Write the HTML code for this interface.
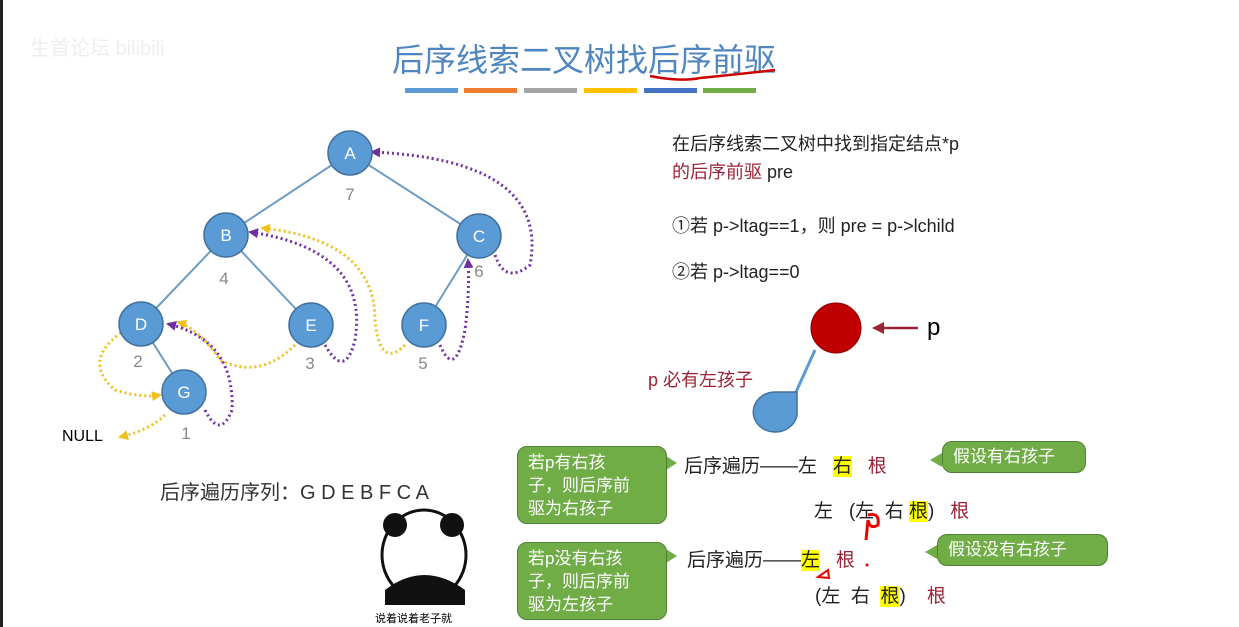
<!DOCTYPE html>
<html><head><meta charset="utf-8"><style>
body{margin:0;width:1239px;height:627px;background:#fff;position:relative;overflow:hidden;font-family:"Liberation Sans","Noto Sans CJK SC",sans-serif}
.t{position:absolute;white-space:nowrap}
.bub{position:absolute;background:#70ad47;border:1px solid #507e32;border-radius:10px;color:#fff;font-size:17px;line-height:23px;padding:4px 10px;box-sizing:border-box}
.hl{background:#ffff00}
.r{color:#9b2335}
</style></head><body>
<div style="position:absolute;left:0;top:0;width:3px;height:627px;background:#222"></div>
<div class="t" style="left:30px;top:32px;font-size:20px;color:#eee">生首论坛 bilibili</div>
<div class="t" style="left:392px;top:35px;font-size:32px;color:#4f86c0">后序线索二叉树找后序前驱</div>
<svg width="1239" height="627" style="position:absolute;left:0;top:0">
<path d="M650 76 Q680 82 700 78 Q740 74 775 70" stroke="#c00" stroke-width="2.5" fill="none"/>
<rect x="405" y="88" width="53" height="5" fill="#5b9bd5"/><rect x="464" y="88" width="53" height="5" fill="#ed7d31"/><rect x="524" y="88" width="53" height="5" fill="#a5a5a5"/><rect x="584" y="88" width="53" height="5" fill="#ffc000"/><rect x="644" y="88" width="53" height="5" fill="#4472c4"/><rect x="703" y="88" width="53" height="5" fill="#70ad47"/>
<g stroke="#6d9cc4" stroke-width="2">
<line x1="350" y1="153" x2="226" y2="235"/><line x1="350" y1="153" x2="479" y2="236"/>
<line x1="226" y1="235" x2="141" y2="324"/><line x1="226" y1="235" x2="311" y2="325"/>
<line x1="479" y1="236" x2="424" y2="325"/><line x1="141" y1="324" x2="184" y2="392"/>
</g>
<defs>
<marker id="ay" markerUnits="userSpaceOnUse" markerWidth="10" markerHeight="10" refX="8" refY="5" orient="auto"><path d="M0 0L10 5L0 10z" fill="#f0c020"/></marker>
<marker id="ap" markerUnits="userSpaceOnUse" markerWidth="10" markerHeight="10" refX="8" refY="5" orient="auto"><path d="M0 0L10 5L0 10z" fill="#7030a0"/></marker>
</defs>
<g fill="none" stroke-width="3" stroke-dasharray="2 3">
<path d="M165 415 Q150 430 120 437" stroke="#f0c020" marker-end="url(#ay)"/>
<path d="M125 330 Q80 360 115 390 Q140 398 160 395" stroke="#f0c020" marker-end="url(#ay)"/>
<path d="M295 345 Q260 380 220 360 Q200 330 178 322" stroke="#f0c020" marker-end="url(#ay)"/>
<path d="M405 345 Q380 370 375 320 Q375 240 262 228" stroke="#f0c020" marker-end="url(#ay)"/>
<path d="M205 410 Q220 440 232 410 Q235 340 168 324" stroke="#7030a0" marker-end="url(#ap)"/>
<path d="M325 345 Q345 380 355 340 Q370 250 250 232" stroke="#7030a0" marker-end="url(#ap)"/>
<path d="M440 345 Q455 380 465 330 Q470 290 468 260" stroke="#7030a0" marker-end="url(#ap)"/>
<path d="M495 255 Q505 285 530 265 Q550 160 372 152" stroke="#7030a0" marker-end="url(#ap)"/>
</g>
<g fill="#5b9bd5" stroke="#41719c" stroke-width="1.5">
<circle cx="350" cy="153" r="22"/><circle cx="226" cy="235" r="22"/><circle cx="479" cy="236" r="22"/>
<circle cx="141" cy="324" r="22"/><circle cx="311" cy="325" r="22"/><circle cx="424" cy="325" r="22"/><circle cx="184" cy="392" r="22"/>
</g>
<g fill="#fff" font-size="17" text-anchor="middle" font-family="Liberation Sans">
<text x="350" y="159">A</text><text x="226" y="241">B</text><text x="479" y="242">C</text><text x="141" y="330">D</text><text x="311" y="331">E</text><text x="424" y="331">F</text><text x="184" y="398">G</text>
</g>
<g fill="#888" font-size="17" text-anchor="middle" font-family="Liberation Sans">
<text x="350" y="200">7</text><text x="224" y="284">4</text><text x="479" y="277">6</text><text x="138" y="367">2</text><text x="310" y="369">3</text><text x="423" y="369">5</text><text x="186" y="439">1</text>
</g>
<line x1="815" y1="350" x2="796" y2="392" stroke="#5b9bd5" stroke-width="3"/>
<path d="M797 392 L797 415 A22 20 0 1 1 775 392 Z" fill="#5b9bd5" stroke="#41719c" stroke-width="1.5"/>
<circle cx="836" cy="328" r="25" fill="#c00000" stroke="#8b0000"/>
<line x1="918" y1="328" x2="880" y2="328" stroke="#9b2335" stroke-width="2.5"/><path d="M872 328 L884 322 L884 334z" fill="#9b2335"/>
<path d="M677 463 L666 456 L666 470z" fill="#70ad47"/>
<path d="M677 556 L666 549 L666 563z" fill="#70ad47"/>
<path d="M930 460 L942 453 L942 467z" fill="#70ad47"/>
<path d="M925 552 L937 545 L937 559z" fill="#70ad47"/>
<path d="M868 515 Q880 512 878 525 Q870 530 868 520 L866 540" stroke="#e00" stroke-width="3" fill="none"/>
<path d="M818 577 L828 570 L829 578z" stroke="#e00" stroke-width="2" fill="none"/>
<circle cx="867" cy="565" r="1.5" fill="#e00"/>
<ellipse cx="424" cy="555" rx="42" ry="45" fill="#fff" stroke="#111" stroke-width="3"/>
<circle cx="395" cy="525" r="12" fill="#111"/><circle cx="452" cy="525" r="12" fill="#111"/>
<path d="M385 590 Q424 560 465 590 L465 605 L385 605z" fill="#111"/>
</svg>
<div class="t" style="left:62px;top:428px;font-size:16px">NULL</div>
<div class="t" style="left:160px;top:476px;font-size:20px;color:#333">后序遍历序列：G D E B F C A</div>
<div class="t" style="left:375px;top:610px;font-size:11px">说着说着老子就</div>
<div class="t" style="left:672px;top:130px;font-size:18px;line-height:28px;color:#222">在后序线索二叉树中找到指定结点*p<br><span class="r">的后序前驱</span> pre</div>
<div class="t" style="left:672px;top:212px;font-size:18px;color:#222">①若 p-&gt;ltag==1，则 pre = p-&gt;lchild</div>
<div class="t" style="left:672px;top:258px;font-size:18px;color:#222">②若 p-&gt;ltag==0</div>
<div class="t" style="left:927px;top:314px;font-size:24px">p</div>
<div class="t r" style="left:648px;top:366px;font-size:18px">p 必有左孩子</div>
<div class="bub" style="left:517px;top:446px;width:150px;height:78px">若p有右孩<br>子，则后序前<br>驱为右孩子</div>
<div class="bub" style="left:517px;top:542px;width:150px;height:78px">若p没有右孩<br>子，则后序前<br>驱为左孩子</div>
<div class="bub" style="left:942px;top:441px;width:144px;height:32px;padding-top:3px">假设有右孩子</div>
<div class="bub" style="left:937px;top:534px;width:171px;height:32px;padding-top:3px">假设没有右孩子</div>
<div class="t" style="left:684px;top:451px;font-size:19px;color:#222">后序遍历——左 &nbsp;&nbsp;<span class="hl">右</span> &nbsp;&nbsp;<span class="r">根</span></div>
<div class="t" style="left:814px;top:496px;font-size:19px;color:#222">左 &nbsp;&nbsp;(左 &nbsp;右 <span class="hl">根</span>) &nbsp;&nbsp;<span class="r">根</span></div>
<div class="t" style="left:687px;top:545px;font-size:19px;color:#222">后序遍历——<span class="hl">左</span> &nbsp;&nbsp;<span class="r">根</span></div>
<div class="t" style="left:815px;top:581px;font-size:19px;color:#222">(左 &nbsp;右 &nbsp;<span class="hl">根</span>) &nbsp;&nbsp;&nbsp;<span class="r">根</span></div>
</body></html>
